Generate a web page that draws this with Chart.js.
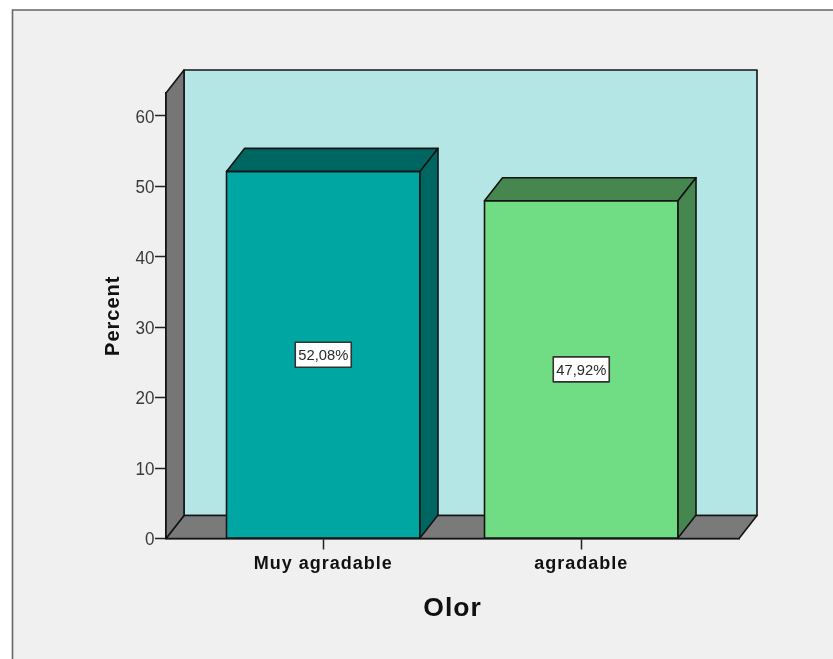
<!DOCTYPE html>
<html>
<head>
<meta charset="utf-8">
<style>
  html, body { margin: 0; padding: 0; background: #fff; }
  canvas { display: block; }
</style>
<script src="https://cdn.jsdelivr.net/npm/chart.js@4/dist/chart.umd.min.js"></script>
</head>
<body>
<canvas id="chart" width="833" height="659"></canvas>
<script>
const categories = ['Muy agradable', 'agradable'];
const percents = [52.08, 47.92];
const frontColors = ['#00a6a2', '#70dd84'];
const shadeColors = ['#006661', '#46864f'];
const yAxisMax = 63.2;
const yAxisStep = 10;
const xAxisMin = -0.6095;
const xAxisMax = 1.6114;

const FONT = '"Liberation Sans", Arial, sans-serif';
const INK = '#141414';
const DEPTH_X = 18;
const DEPTH_Y = 23;

function poly(ctx, pts, fill) {
  ctx.beginPath();
  pts.forEach((p, i) => (i ? ctx.lineTo(p[0], p[1]) : ctx.moveTo(p[0], p[1])));
  ctx.closePath();
  if (fill) {
    ctx.fillStyle = fill;
    ctx.fill();
  }
  ctx.lineJoin = 'round';
  ctx.lineWidth = 1.6;
  ctx.strokeStyle = INK;
  ctx.stroke();
}

// Grey panel behind the plot, with its top and left rule running off the page.
// The bold axis text is set slightly tracked, so the spacing is switched on here.
const panel = {
  id: 'panel',
  beforeDraw(chart) {
    const { ctx, width, height } = chart;
    ctx.save();
    ctx.fillStyle = '#ffffff';
    ctx.fillRect(0, 0, width, height);
    ctx.fillStyle = '#f0f0f0';
    ctx.fillRect(12.5, 10, width, height);
    ctx.strokeStyle = '#666666';
    ctx.lineWidth = 1.6;
    ctx.beginPath();
    ctx.moveTo(12.5, height);
    ctx.lineTo(12.5, 10);
    ctx.lineTo(width, 10);
    ctx.stroke();
    ctx.restore();
    ctx.letterSpacing = '1px';
  }
};

// Box-shaped plot room: back wall, floor and left wall.
const room = {
  id: 'room',
  beforeDatasetsDraw(chart) {
    const { ctx, chartArea: a } = chart;
    const L = a.left, R = a.right, T = a.top, B = a.bottom;
    ctx.save();
    poly(ctx, [[L + DEPTH_X, T - DEPTH_Y], [R + DEPTH_X, T - DEPTH_Y], [R + DEPTH_X, B - DEPTH_Y], [L + DEPTH_X, B - DEPTH_Y]], '#b5e6e6');
    poly(ctx, [[L, B], [L + DEPTH_X, B - DEPTH_Y], [R + DEPTH_X, B - DEPTH_Y], [R, B]], '#7a7a7a');
    poly(ctx, [[L, T], [L + DEPTH_X, T - DEPTH_Y], [L + DEPTH_X, B - DEPTH_Y], [L, B]], '#767676');
    ctx.restore();
  }
};

// Extruded top and side of each bar, the boxed value labels, and the value-axis numbers.
const extrude = {
  id: 'extrude',
  afterDatasetsDraw(chart) {
    const { ctx } = chart;
    const bars = chart.getDatasetMeta(0).data;
    ctx.save();
    ctx.letterSpacing = '0px';
    bars.forEach((bar, i) => {
      const l = bar.x - bar.width / 2, r = bar.x + bar.width / 2;
      poly(ctx, [[l, bar.y], [r, bar.y], [r, bar.base], [l, bar.base]], null);
      poly(ctx, [[l, bar.y], [l + DEPTH_X, bar.y - DEPTH_Y], [r + DEPTH_X, bar.y - DEPTH_Y], [r, bar.y]], shadeColors[i]);
      poly(ctx, [[r, bar.y], [r + DEPTH_X, bar.y - DEPTH_Y], [r + DEPTH_X, bar.base - DEPTH_Y], [r, bar.base]], shadeColors[i]);
    });
    bars.forEach((bar, i) => {
      const midY = (bar.y + bar.base) / 2;
      const w = 56, h = 25;
      ctx.fillStyle = '#ffffff';
      ctx.fillRect(bar.x - w / 2, midY - h / 2, w, h);
      ctx.strokeStyle = '#333333';
      ctx.lineWidth = 1.6;
      ctx.strokeRect(bar.x - w / 2, midY - h / 2, w, h);
      ctx.fillStyle = '#2a2a2a';
      ctx.font = '15px ' + FONT;
      ctx.textAlign = 'center';
      ctx.textBaseline = 'middle';
      ctx.fillText(percents[i].toFixed(2).replace('.', ',') + '%', bar.x, midY + 1.5, 50);
    });
    const yScale = chart.scales.y;
    ctx.fillStyle = '#3a3a3a';
    ctx.font = '18px ' + FONT;
    ctx.textAlign = 'right';
    ctx.textBaseline = 'middle';
    yScale.ticks.forEach((t) => {
      const label = String(t.label);
      ctx.fillText(label, 154.5, yScale.getPixelForValue(t.value) + 2, label.length * 9.5);
    });
    ctx.restore();
  }
};

new Chart(document.getElementById('chart'), {
  type: 'bar',
  data: {
    datasets: [{
      data: categories.map((_, i) => ({ x: i, y: percents[i] })),
      backgroundColor: frontColors,
      borderWidth: 0,
      categoryPercentage: 0.75,
      barPercentage: 1
    }]
  },
  options: {
    responsive: false,
    animation: false,
    layout: { padding: { left: 0, right: 94, top: 93, bottom: 0 } },
    plugins: { legend: { display: false }, tooltip: { enabled: false } },
    scales: {
      x: {
        type: 'linear',
        offset: false,
        min: xAxisMin,
        max: xAxisMax,
        afterBuildTicks(scale) { scale.ticks = categories.map((_, i) => ({ value: i })); },
        afterFit(scale) { scale.height = 120.5; },
        grid: { offset: false, drawOnChartArea: false, tickLength: 11, tickColor: '#222222', tickWidth: 1.5 },
        border: { color: INK, width: 1.5 },
        ticks: {
          autoSkip: false,
          maxRotation: 0,
          padding: 4,
          color: '#111111',
          font: { family: FONT, size: 18, weight: 'bold' },
          callback: (value) => categories[value]
        },
        title: {
          display: true,
          text: 'Olor',
          color: '#111111',
          font: { family: FONT, size: 26.5, weight: 'bold' },
          padding: { top: 0, bottom: 34 }
        }
      },
      y: {
        min: 0,
        max: yAxisMax,
        afterFit(scale) { scale.width = 166; },
        grid: { drawOnChartArea: false, tickLength: 11, tickColor: '#222222', tickWidth: 1.5 },
        border: { color: INK, width: 1.5 },
        ticks: {
          display: false,
          stepSize: yAxisStep,
          includeBounds: false
        },
        title: {
          display: true,
          text: 'Percent',
          color: '#111111',
          font: { family: FONT, size: 20, weight: 'bold' },
          padding: { top: 101, bottom: 0 }
        }
      }
    }
  },
  plugins: [panel, room, extrude]
});
</script>
</body>
</html>
